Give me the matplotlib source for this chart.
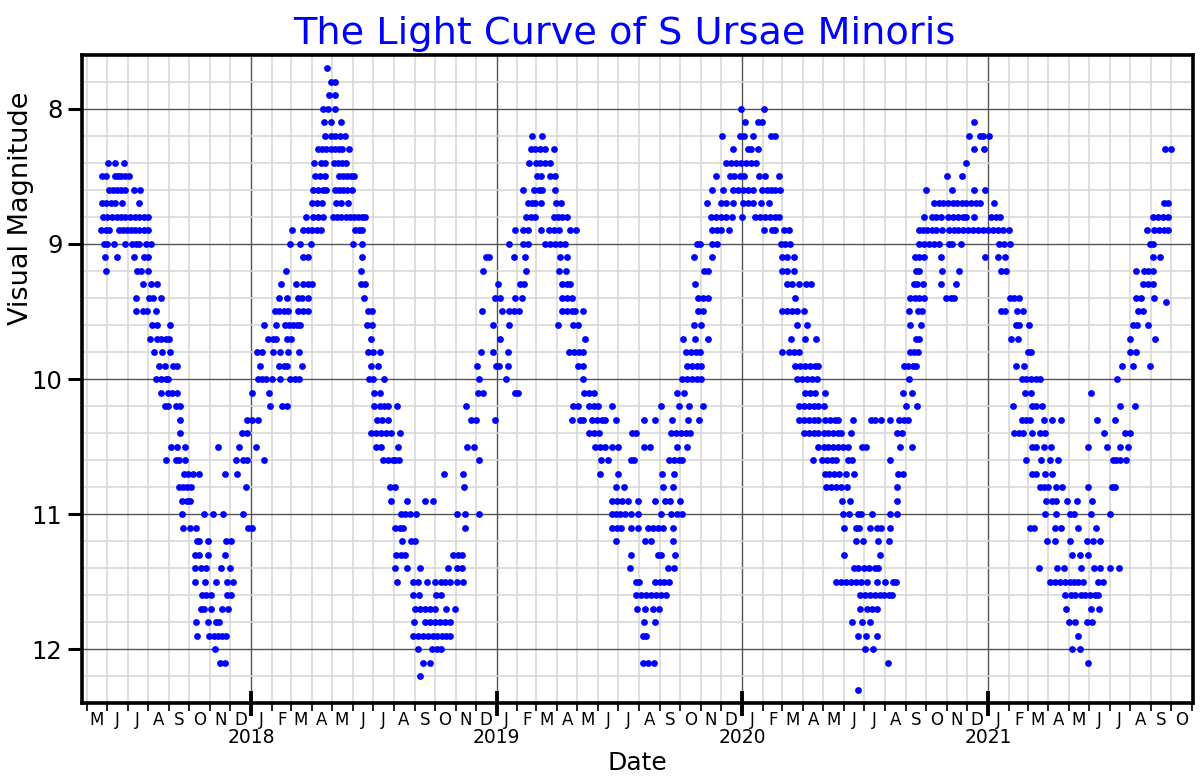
"""
Light curve of S Ursae Minoris (visual magnitudes, 2017-2021)
"""

# ============================================================
# Import Libraries
# ============================================================
import numpy as np
import pandas as pd
import matplotlib
matplotlib.use('Agg')
import matplotlib.pyplot as plt
import matplotlib.dates as mdates
from matplotlib.ticker import MultipleLocator, FuncFormatter

# ============================================================
# Data: observations
# Each entry: (visual magnitude, [dates as months since 2017-01-01])
# e.g. 4.5 = mid May 2017, 12.0 = 1 Jan 2018
# ============================================================

# May 2017 - Jan 2018
season_2017 = [
    (8.4, [5.04, 5.35, 5.80]),
    (8.5, [4.75, 4.91, 5.35, 5.51, 5.69, 5.85, 6.07]),
    (8.6, [5.07, 5.28, 5.47, 5.69, 5.85, 6.29, 6.61]),
    (8.7, [4.75, 4.94, 5.15, 5.35, 5.72, 6.53]),
    (8.8, [4.78, 4.99, 5.23, 5.47, 5.69, 5.85, 6.12, 6.37, 6.56, 6.77, 6.98]),
    (8.9, [4.71, 4.91, 5.07, 5.56, 5.75, 5.96, 6.17, 6.37, 6.56, 6.77, 6.98]),
    (9.0, [4.83, 4.99, 5.31, 5.88, 6.20, 6.40, 6.56, 6.90, 7.10]),
    (9.1, [4.88, 5.46, 6.32, 6.77, 6.98]),
    (9.2, [4.91, 6.45, 6.66, 6.98]),
    (9.3, [6.72, 7.10, 7.42]),
    (9.4, [6.40, 7.01, 7.21, 7.61]),
    (9.5, [6.40, 6.76, 6.95, 7.37]),
    (9.6, [7.18, 7.42, 8.04, 12.61]),
    (9.7, [7.06, 7.42, 7.61, 7.82, 7.99]),
    (9.8, [7.27, 7.66, 8.02, 12.28, 12.52]),
    (9.9, [7.50, 7.79, 8.18, 8.39, 12.44]),
    (10.0, [7.34, 7.58, 7.82, 7.95, 12.33, 12.52, 12.72]),
    (10.1, [7.60, 7.95, 8.15, 8.39, 12.04]),
    (10.2, [7.78, 7.92, 8.31, 8.51]),
    (10.3, [8.54, 11.80, 12.04, 12.31]),
    (10.4, [8.51, 11.56, 11.80]),
    (10.5, [8.07, 8.36, 8.80, 10.37, 11.39, 12.22]),
    (10.6, [7.82, 8.33, 8.47, 8.78, 11.27, 11.59, 11.80, 12.61]),
    (10.7, [8.72, 8.93, 9.17, 9.45, 10.74, 11.31]),
    (10.8, [8.47, 8.67, 8.88, 9.09, 11.76]),
    (10.9, [8.64, 8.88, 9.04]),
    (11.0, [8.64, 9.69, 10.14, 10.63, 11.59]),
    (11.1, [8.68, 9.04, 9.33, 11.83, 12.01]),
    (11.2, [9.36, 9.48, 9.87, 10.77, 11.03]),
    (11.3, [9.28, 9.45, 9.88, 10.74]),
    (11.4, [9.28, 9.53, 9.77, 10.55, 10.99]),
    (11.5, [9.28, 9.74, 10.26, 10.82, 11.10]),
    (11.6, [9.61, 9.80, 10.01, 10.82, 11.03]),
    (11.7, [9.53, 9.72, 10.01, 10.58, 10.87]),
    (11.8, [9.33, 9.88, 10.26, 10.42]),
    (11.9, [9.38, 9.96, 10.17, 10.39, 10.58, 10.77]),
    (12.0, [10.21]),
    (12.1, [10.47, 10.74]),
]

# Jan 2018 - Nov 2018
season_2018 = [
    (7.7, [15.76]),
    (7.8, [15.97, 16.13]),
    (7.9, [15.84, 16.16]),
    (8.0, [15.56, 15.80, 16.13]),
    (8.1, [15.61, 15.93, 16.42]),
    (8.2, [15.64, 15.97, 16.16, 16.37, 16.61]),
    (8.3, [15.32, 15.51, 15.72, 15.93, 16.13, 16.32, 16.48, 16.81]),
    (8.4, [15.11, 15.45, 15.67, 16.10, 16.29, 16.48, 16.66]),
    (8.5, [15.16, 15.40, 15.64, 16.32, 16.53, 16.74, 16.91, 17.07]),
    (8.6, [15.07, 15.32, 15.56, 15.72, 16.13, 16.32, 16.53, 16.74, 16.97]),
    (8.7, [14.99, 15.24, 15.51, 16.21, 16.45, 16.78]),
    (8.8, [14.72, 15.07, 15.32, 15.56, 16.05, 16.26, 16.45, 16.66, 16.86,
           17.07, 17.26, 17.46, 17.59]),
    (8.9, [14.05, 14.56, 14.80, 15.03, 15.24, 15.48, 17.10, 17.29, 17.47]),
    (9.0, [13.94, 14.41, 14.96, 17.02, 17.46]),
    (9.1, [14.56, 14.80, 17.47]),
    (9.2, [13.73, 17.39]),
    (9.3, [13.45, 14.23, 14.59, 14.83, 15.03, 17.42, 17.62]),
    (9.4, [13.37, 13.78, 14.35, 14.54, 14.80, 17.55]),
    (9.5, [13.13, 13.37, 13.62, 13.83, 14.35, 14.59, 14.83, 17.75, 17.94]),
    (9.6, [13.21, 13.70, 13.89, 14.10, 14.30, 14.44, 17.72, 17.94]),
    (9.7, [12.81, 13.02, 13.21, 13.78, 14.02, 17.91]),
    (9.8, [13.02, 13.42, 13.83, 14.39, 17.75, 17.99, 18.36]),
    (9.9, [13.37, 13.62, 13.81, 14.51, 17.91, 18.23]),
    (10.0, [12.97, 13.42, 13.94, 14.18, 14.38, 17.78, 17.99, 18.51]),
    (10.1, [12.85, 18.07, 18.32]),
    (10.2, [12.89, 13.53, 13.78, 18.07, 18.32, 18.53, 18.72, 19.13]),
    (10.3, [18.20, 18.43, 18.72]),
    (10.4, [17.91, 18.15, 18.40, 18.64, 18.88, 19.30]),
    (10.5, [18.15, 18.40, 19.21]),
    (10.6, [18.48, 18.72, 18.96, 19.08, 19.25]),
    (10.7, [21.43]),
    (10.8, [18.80, 19.05]),
    (10.9, [18.88, 19.61, 20.50, 20.91]),
    (11.0, [19.34, 19.56, 19.77, 20.07]),
    (11.1, [19.08, 19.29, 19.45]),
    (11.2, [19.37, 19.81, 20.02]),
    (11.3, [19.09, 19.34, 19.53]),
    (11.4, [19.05, 19.65, 20.26, 21.61]),
    (11.5, [19.13, 19.94, 20.18, 20.62, 21.02, 21.28, 21.51, 21.72]),
    (11.6, [19.94, 20.21, 21.04, 21.28]),
    (11.7, [20.02, 20.26, 20.50, 20.75, 20.99, 21.56]),
    (11.8, [19.97, 20.50, 20.75, 20.99, 21.23, 21.48, 21.72]),
    (11.9, [19.94, 20.18, 20.42, 20.67, 20.91, 21.12, 21.35, 21.56, 21.72]),
    (12.0, [20.15, 20.88, 21.12, 21.31]),
    (12.1, [20.39, 20.75]),
    (12.2, [20.28]),
]

# Nov 2018 - May 2019
season_2019 = [
    (8.2, [25.75, 26.27]),
    (8.3, [25.70, 25.94, 26.19, 26.43, 26.84]),
    (8.4, [25.62, 25.98, 26.19, 26.43, 26.67]),
    (8.5, [26.03, 26.22, 26.67, 26.88]),
    (8.6, [25.30, 25.86, 26.11, 26.27, 26.88]),
    (8.7, [25.54, 25.78, 25.94, 26.24, 26.95, 27.21]),
    (8.8, [25.46, 25.70, 25.91, 26.84, 27.05, 27.24, 27.48]),
    (8.9, [24.89, 25.30, 25.54, 26.22, 26.59, 26.84, 27.08, 27.65, 27.92]),
    (9.0, [24.57, 25.30, 25.54, 26.43, 26.67, 26.92, 27.16, 27.40]),
    (9.1, [23.51, 23.64, 24.84, 25.38, 27.16, 27.48]),
    (9.2, [23.35, 25.46, 27.08, 27.44]),
    (9.3, [24.05, 25.13, 25.33, 27.24, 27.48, 27.65]),
    (9.4, [23.92, 24.16, 24.89, 25.26, 27.24, 27.48, 27.73]),
    (9.5, [23.30, 24.24, 24.60, 24.84, 25.09, 27.24, 27.48, 27.73, 27.89, 28.29]),
    (9.6, [23.84, 24.60, 27.05, 27.81, 28.05]),
    (9.7, [24.16, 28.38]),
    (9.8, [23.27, 23.84, 24.53, 27.60, 27.86, 28.08, 28.29]),
    (9.9, [23.06, 23.97, 24.13, 24.53, 28.02, 28.29]),
    (10.0, [23.14, 24.45, 28.29]),
    (10.1, [23.11, 23.35, 24.86, 25.02, 28.34, 28.57, 28.81]),
    (10.2, [22.51, 27.81, 28.05, 28.54, 28.78, 28.99, 29.67]),
    (10.3, [22.75, 22.99, 23.92, 27.73, 28.13, 28.29, 28.73, 28.97, 29.19,
            29.35, 29.87]),
    (10.4, [28.54, 28.78, 29.06, 30.64]),
    (10.5, [22.54, 22.90, 28.83, 29.11, 29.35, 29.67, 30.00]),
    (10.6, [23.16, 29.14, 29.48, 30.61]),
    (10.7, [22.38, 29.11, 30.00]),
    (10.8, [22.43, 29.88, 30.29]),
    (10.9, [29.67, 29.92, 30.19, 30.48]),
    (11.0, [22.09, 22.46, 23.16, 29.67, 29.87, 30.08, 30.32, 30.61]),
    (11.1, [22.46, 29.67, 29.92, 30.13, 30.61]),
    (11.2, [29.87]),
    (11.3, [21.86, 22.10, 22.30, 30.61]),
    (11.4, [22.05, 22.33, 30.56]),
    (11.5, [22.05, 22.35]),
    (11.7, [21.97]),
]

# May 2019 - Apr 2020
season_2020 = [
    (8.0, [35.95, 37.05]),
    (8.1, [36.15, 36.79, 36.97]),
    (8.2, [35.06, 35.92, 36.11, 36.52, 37.41, 37.62]),
    (8.3, [35.55, 36.28, 36.44, 36.79]),
    (8.4, [35.22, 35.47, 35.71, 35.95, 36.19, 36.44, 36.68]),
    (8.5, [34.77, 35.43, 35.63, 35.92, 36.11, 36.84, 37.12, 37.85]),
    (8.6, [34.53, 35.08, 35.59, 35.82, 36.03, 36.28, 36.52, 36.97, 37.20,
           37.44, 37.65, 37.90]),
    (8.7, [34.30, 35.01, 35.25, 35.59, 36.03, 36.28, 36.52, 36.92, 37.33]),
    (8.8, [34.49, 34.74, 34.98, 35.22, 35.50, 36.00, 36.65, 36.89, 37.13,
           37.38, 37.62, 37.85]),
    (8.9, [34.54, 34.78, 35.01, 35.38, 37.05, 37.49, 37.65, 38.06, 38.30]),
    (9.0, [33.80, 33.97, 34.57, 34.82, 37.93, 38.14, 38.35]),
    (9.1, [33.65, 34.53, 37.98, 38.25, 38.54]),
    (9.2, [34.17, 34.33, 37.98, 38.25, 38.54]),
    (9.3, [33.71, 38.22, 38.46, 38.79, 39.16, 39.40]),
    (9.4, [33.84, 34.09, 34.36, 38.59]),
    (9.5, [33.88, 34.12, 37.98, 38.22, 38.46, 38.71, 39.03]),
    (9.6, [33.68, 34.01, 38.71, 39.19]),
    (9.7, [33.16, 33.73, 34.33, 38.41, 39.11, 39.65]),
    (9.8, [33.28, 33.52, 33.76, 33.96, 38.01, 38.30, 38.54, 38.79]),
    (9.9, [33.33, 33.55, 33.81, 34.01, 38.63, 38.87, 39.11, 39.36, 39.60, 39.76]),
    (10.0, [33.08, 33.33, 33.55, 33.81, 34.01, 38.71, 38.95, 39.19, 39.44, 39.68]),
    (10.1, [32.84, 33.19, 39.11, 39.36, 39.60]),
    (10.2, [32.06, 32.92, 33.44, 34.12, 38.79, 39.03, 39.28, 39.52, 39.76]),
    (10.3, [31.25, 31.74, 32.60, 33.39, 33.89, 38.79, 39.03, 39.28, 39.52, 39.76]),
    (10.4, [30.85, 32.55, 32.79, 33.03, 33.28, 33.49, 39.03, 39.28, 39.52, 39.76]),
    (10.5, [31.22, 31.54, 32.87, 33.33, 39.73]),
    (10.6, [30.77, 32.47, 32.68, 32.93, 33.11, 39.47]),
    (10.7, [32.11, 32.71]),
    (10.8, [32.14, 32.66]),
    (10.9, [30.96, 31.74, 32.27, 32.52, 32.97]),
    (11.0, [30.93, 32.06, 32.55, 32.87, 33.11]),
    (11.1, [30.93, 31.41, 31.66, 31.90, 32.14, 32.63]),
    (11.2, [31.30, 31.58, 32.63]),
    (11.3, [31.90, 32.06, 32.74]),
    (11.4, [32.39, 32.68]),
    (11.5, [30.85, 31.01, 31.74, 31.98, 32.22, 32.47]),
    (11.6, [30.85, 31.09, 31.33, 31.58, 31.82, 32.06, 32.30]),
    (11.7, [30.90, 31.28, 31.66, 31.94]),
    (11.8, [31.25, 31.74]),
    (11.9, [31.17, 31.33]),
    (12.1, [31.17, 31.45, 31.71]),
]

# Apr 2020 - Jan 2021
season_2021a = [
    (8.1, [47.35]),
    (8.2, [47.11, 47.63, 47.76, 48.06]),
    (8.3, [47.35, 47.79]),
    (8.4, [46.95]),
    (8.5, [46.01, 46.75]),
    (8.6, [45.00, 46.27, 47.35, 47.84]),
    (8.7, [45.37, 45.60, 45.83, 46.06, 46.30, 46.51, 46.74, 46.96, 47.19,
           47.43, 47.63, 48.29]),
    (8.8, [44.89, 45.28, 45.49, 45.73, 46.06, 46.30, 46.54, 46.78, 46.95,
           47.35, 48.16, 48.41, 48.57]),
    (8.9, [44.63, 44.84, 45.05, 45.28, 45.49, 45.76, 46.10, 46.35, 46.57,
           46.80, 47.03, 47.27, 47.51, 47.76, 48.00, 48.24, 48.49, 48.70]),
    (9.0, [44.67, 44.91, 45.15, 45.37, 45.60, 46.09, 46.27, 46.70, 48.55]),
    (9.1, [44.43, 44.67, 44.91, 45.73, 47.84, 48.49]),
    (9.2, [44.48, 44.67, 45.78, 46.59, 48.65]),
    (9.3, [44.40, 44.56, 44.83, 45.70, 46.46]),
    (9.4, [44.19, 44.43, 44.67, 44.91, 45.97, 46.18, 46.35]),
    (9.5, [44.16, 44.59, 44.79, 48.65]),
    (9.6, [44.19, 44.73]),
    (9.7, [44.48, 44.67]),
    (9.8, [44.19, 44.40, 44.59]),
    (9.9, [43.92, 44.11, 44.35, 44.48]),
    (10.0, [44.16]),
    (10.1, [40.06, 43.87, 44.31]),
    (10.2, [40.02, 43.98, 44.56]),
    (10.3, [40.06, 40.30, 40.55, 40.71, 41.44, 42.30, 42.52, 42.81, 43.22,
            43.66, 43.92, 44.11]),
    (10.4, [40.02, 40.24, 40.45, 40.71, 40.84, 41.35, 43.58, 43.79]),
    (10.5, [40.02, 40.24, 40.45, 40.71, 40.95, 41.19, 41.89, 42.08, 43.71, 44.32]),
    (10.6, [39.94, 40.19, 40.41, 40.62, 41.19, 41.39, 43.22]),
    (10.7, [40.06, 40.27, 40.50, 40.76, 41.07, 41.48, 43.62, 43.87]),
    (10.8, [40.14, 40.37, 40.61, 40.86, 41.15, 43.57]),
    (10.9, [40.90, 41.28, 43.57]),
    (11.0, [40.95, 41.22, 41.68, 41.84, 42.38, 43.22, 43.59]),
    (11.1, [40.98, 41.57, 41.76, 42.28, 42.63, 42.79, 43.22]),
    (11.2, [41.60, 41.92, 42.65, 43.17]),
    (11.3, [41.00, 42.76]),
    (11.4, [41.47, 41.71, 41.97, 42.25, 42.52, 42.68]),
    (11.5, [40.63, 40.87, 41.11, 41.36, 41.60, 41.84, 42.12, 42.60, 43.01,
            43.38, 43.54]),
    (11.6, [41.79, 42.04, 42.28, 42.52, 42.76, 42.97, 43.17, 43.33]),
    (11.7, [41.81, 42.12, 42.36, 42.60]),
    (11.8, [41.39, 41.89, 42.29]),
    (11.9, [41.68, 42.08, 42.60]),
    (12.0, [42.05, 42.41]),
    (12.1, [43.14]),
    (12.3, [41.71]),
]

# Jan 2021 - Sep 2021
season_2021b = [
    (8.3, [56.67, 56.99]),
    (8.7, [56.62, 56.83]),
    (8.8, [56.10, 56.34, 56.58, 56.83]),
    (8.9, [49.02, 55.81, 56.13, 56.37, 56.62, 56.83]),
    (9.0, [48.77, 49.05, 55.94, 56.10]),
    (9.1, [48.84, 56.10, 56.42]),
    (9.2, [48.85, 55.29, 55.66, 55.86, 56.11]),
    (9.3, [55.61, 55.86, 56.10]),
    (9.4, [49.08, 49.29, 49.53, 55.29, 55.53, 56.15]),
    (9.43, [56.75]),
    (9.5, [48.84, 49.45, 49.75, 55.37, 55.61]),
    (9.6, [49.41, 49.57, 50.05, 55.13, 55.34, 55.82]),
    (9.7, [49.13, 49.50, 55.00, 56.18]),
    (9.8, [50.02, 50.18, 54.96, 55.29]),
    (9.9, [49.41, 49.81, 54.60, 55.13, 55.94]),
    (10.0, [49.70, 49.94, 50.18, 50.38, 50.59, 54.35]),
    (10.1, [49.86, 50.15, 53.10]),
    (10.2, [49.21, 50.22, 50.38, 50.70, 54.51, 55.21]),
    (10.3, [49.70, 49.89, 50.10, 50.78, 51.19, 51.64, 53.38, 54.27]),
    (10.4, [49.29, 49.53, 49.78, 50.22, 50.59, 50.83, 53.72, 54.72, 54.96]),
    (10.5, [50.22, 50.38, 50.80, 51.12, 52.91, 53.88, 54.51, 54.88]),
    (10.6, [49.94, 50.64, 51.07, 51.48, 54.15, 54.32, 54.48, 54.80]),
    (10.7, [50.22, 50.38, 50.83, 51.16]),
    (10.8, [50.59, 50.80, 50.99, 51.40, 51.69, 52.91, 54.12, 54.24]),
    (10.9, [50.86, 51.16, 51.40, 51.93, 52.42, 53.15]),
    (11.0, [50.83, 51.40, 52.05, 52.26, 53.10, 54.02]),
    (11.1, [50.10, 50.31, 51.32, 51.64, 52.45, 53.34]),
    (11.2, [50.94, 51.32, 52.05, 52.86, 53.20, 53.51]),
    (11.3, [52.16, 52.57, 52.91]),
    (11.4, [50.54, 51.43, 51.77, 52.58, 53.21, 53.51, 54.04, 54.45]),
    (11.5, [51.07, 51.32, 51.56, 51.80, 52.05, 52.26, 52.45, 52.70, 53.42, 53.67]),
    (11.6, [51.84, 52.10, 52.32, 52.58, 52.81, 53.02, 53.26, 53.42]),
    (11.7, [51.85, 53.10, 53.47]),
    (11.8, [52.01, 52.29, 52.89, 53.13]),
    (11.9, [52.45]),
    (12.0, [52.16, 52.53]),
    (12.1, [52.91]),
]

SEASONS = [season_2017, season_2018, season_2019, season_2020,
           season_2021a, season_2021b]

X_START = pd.Timestamp('2017-04-24')
X_END = pd.Timestamp('2021-11-02')
Y_TOP = 7.6
Y_BOTTOM = 12.4


# ============================================================
# Helpers
# ============================================================
def month_to_date(m):
    """Convert months since 2017-01-01 into a Timestamp."""
    whole = int(np.floor(m))
    year = 2017 + whole // 12
    month = whole % 12 + 1
    start = pd.Timestamp(year=year, month=month, day=1)
    return start + pd.Timedelta(days=(m - whole) * start.days_in_month)


dates = []
mags = []
for season in SEASONS:
    for mag, months in season:
        for m in months:
            dates.append(month_to_date(m))
            mags.append(mag)

print(f"Observations: {len(mags)}")

# ============================================================
# Plot
# ============================================================
fig = plt.figure(figsize=(12, 7.8), dpi=100)
ax = fig.add_axes([0.0683, 0.0987, 0.9258, 0.8308])

ax.plot(dates, mags, 'o', color='#0000ff', markersize=4.9,
        markeredgewidth=0, linestyle='none')

ax.set_xlim(X_START, X_END)
ax.set_ylim(Y_BOTTOM, Y_TOP)

# grid
ax.set_axisbelow(True)
ax.grid(which='major', color='#555555', linewidth=1.0)
ax.grid(which='minor', color='#d6d6d6', linewidth=1.1)

# y axis
ax.yaxis.set_major_locator(MultipleLocator(1))
ax.yaxis.set_minor_locator(MultipleLocator(0.2))
ax.tick_params(axis='y', which='major', direction='out', length=10,
               width=2.2, labelsize=17.5, pad=4)
ax.tick_params(axis='y', which='minor', length=0)

# x axis: years (major) and month starts (minor)
ax.xaxis.set_major_locator(mdates.YearLocator())
ax.xaxis.set_major_formatter(mdates.DateFormatter('%Y'))
ax.xaxis.set_minor_locator(mdates.MonthLocator())
ax.tick_params(axis='x', which='major', direction='inout', length=18,
               width=2.8, labelsize=13.5, pad=9)
ax.tick_params(axis='x', which='minor', direction='out', length=6,
               width=1.2)

# month initials centred in each month
sec = ax.secondary_xaxis('bottom')
sec.xaxis.set_major_locator(mdates.MonthLocator(bymonthday=16))
sec.xaxis.set_major_formatter(
    FuncFormatter(lambda x, pos: mdates.num2date(x).strftime('%b')[0]))
sec.tick_params(axis='x', length=0, labelsize=12, pad=6)
sec.spines['bottom'].set_visible(False)

for side in ['left', 'right', 'top', 'bottom']:
    ax.spines[side].set_linewidth(2.6)
    ax.spines[side].set_color('black')

ax.set_title('The Light Curve of S Ursae Minoris', color='#0000ff',
             fontsize=27.5, pad=8, x=0.488)
ax.set_xlabel('Date', fontsize=18, labelpad=3)
ax.set_ylabel('Visual Magnitude', fontsize=19.5)
# label sits in the upper part of the axis, as in the original
ax.yaxis.set_label_coords(-0.043, 0.763)

fig.savefig('out.png', dpi=100)
plt.close(fig)
print("Saved: out.png")
